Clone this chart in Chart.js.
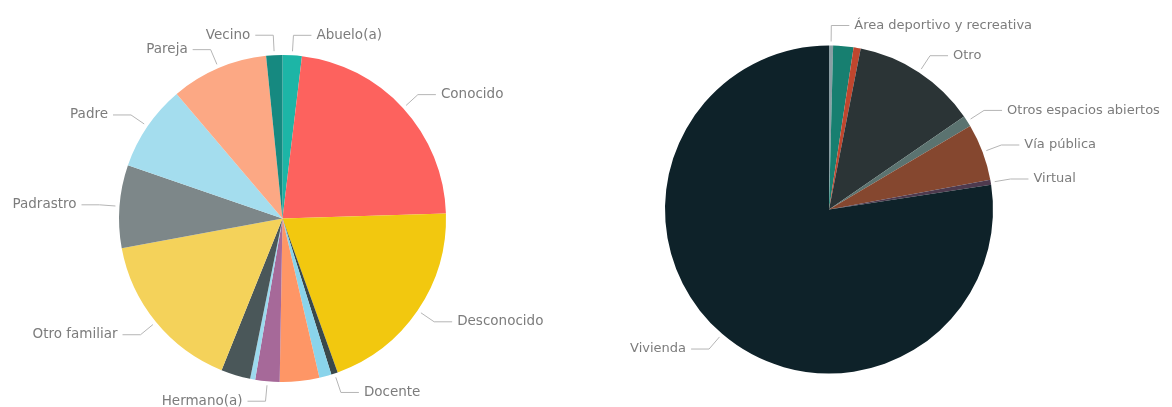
<!DOCTYPE html>
<html><head><meta charset="utf-8">
<script src="https://cdn.jsdelivr.net/npm/chart.js@4.4.1/dist/chart.umd.min.js"></script>
<style>
html,body{margin:0;padding:0;background:#fff;}
#wrap{position:relative;width:1172px;height:407px;overflow:hidden;background:#fff;}
canvas{position:absolute;top:0;}
#c1{left:0}
#c2{left:586px}
</style></head><body>
<div id="wrap"><canvas id="c1" width="586" height="407"></canvas><canvas id="c2" width="586" height="407"></canvas></div>
<script>
// Left pie: agresor (empty label = slice without a visible label in the reference)
const agresorLabels = ['Abuelo(a)','Conocido','Desconocido','Docente','','','Hermano(a)','','','Otro familiar','Padrastro','Padre','Pareja','Vecino'];
const agresorValues = [1.9, 22.6, 20.0, 0.65, 1.2, 3.9, 2.4, 0.5, 2.9, 16.0, 8.2, 8.5, 9.6, 1.6];
const agresorColors = ['#1DB5A6','#FD625E','#F2C80F','#3A484B','#8AD4EB','#FE9666','#A66999','#9DDAEE','#4A5759','#F4D25A','#7D8789','#A4DDEE','#FCA884','#168980'];

// Right pie: lugar
const lugarLabels = ['Área deportivo y recreativa','','','Otro','Otros espacios abiertos','Vía pública','Virtual','Vivienda'];
const lugarValues = [0.4, 2.0, 0.7, 12.3, 1.1, 5.6, 0.5, 77.4];
const lugarColors = ['#8A9EA3','#177F70','#C0462E','#2B3436','#5B7370','#85472F','#4E3A4E','#0E2229'];

const leaderLabels = {
  id: 'leaderLabels',
  afterDatasetsDraw(chart, args, opts) {
    const ctx = chart.ctx;
    const meta = chart.getDatasetMeta(0);
    const labels = chart.data.labels;
    ctx.save();
    ctx.font = opts.font;
    ctx.fillStyle = opts.color;
    ctx.strokeStyle = opts.lineColor;
    ctx.lineWidth = 1;
    ctx.textBaseline = 'middle';
    meta.data.forEach((arc, i) => {
      const txt = labels[i];
      if (!txt) return;
      const p = arc.getProps(['x','y','startAngle','endAngle','outerRadius'], true);
      const a = (p.startAngle + p.endAngle) / 2;
      const c = Math.cos(a), s = Math.sin(a);
      const x0 = p.x + (p.outerRadius + opts.start) * c, y0 = p.y + (p.outerRadius + opts.start) * s;
      const x1 = p.x + (p.outerRadius + opts.bend) * c, y1 = p.y + (p.outerRadius + opts.bend) * s;
      const dir = c >= 0 ? 1 : -1;
      const x2 = x1 + dir * opts.tail;
      ctx.beginPath();
      ctx.moveTo(x0, y0); ctx.lineTo(x1, y1); ctx.lineTo(x2, y1);
      ctx.stroke();
      ctx.textAlign = dir > 0 ? 'left' : 'right';
      ctx.fillText(txt, x2 + dir * opts.gap, y1);
    });
    ctx.restore();
  }
};

function makePie(id, labels, values, colors, padding, font) {
  return new Chart(document.getElementById(id), {
    type: 'pie',
    data: { labels: labels, datasets: [{ data: values, backgroundColor: colors, borderWidth: 0 }] },
    options: {
      responsive: false,
      animation: false,
      layout: { padding: padding },
      plugins: {
        legend: { display: false },
        tooltip: { enabled: false },
        leaderLabels: { font: font, color: '#7c7c7c', lineColor: '#b5b5b5', start: 4, bend: 20, tail: 18, gap: 5 }
      }
    },
    plugins: [leaderLabels]
  });
}

makePie('c1', agresorLabels, agresorValues, agresorColors, {top: 55, bottom: 25, left: 119, right: 140}, '13.5px "DejaVu Sans"');
makePie('c2', lugarLabels, lugarValues, lugarColors, {top: 45.5, bottom: 33.5, left: 79, right: 179}, '13px "DejaVu Sans"');
</script>
</body></html>
